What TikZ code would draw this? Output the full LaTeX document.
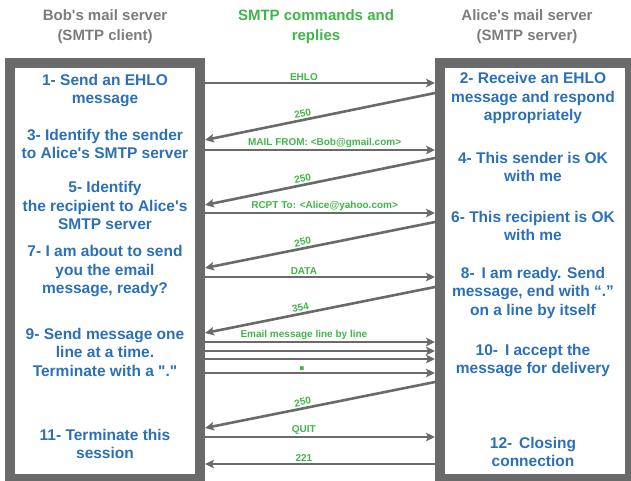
\documentclass[tikz,border=0pt]{standalone}
\usepackage{fontspec}
\setmainfont[Ligatures=TeXOff]{Liberation Sans}
\usetikzlibrary{arrows.meta}

\definecolor{framegray}{HTML}{6A6A6A}
\definecolor{stepblue}{HTML}{2B70B6}
\definecolor{cmdgreen}{HTML}{42B54A}
\definecolor{headgray}{HTML}{7C7C7C}

\begin{document}
\begin{tikzpicture}[
  x=1pt, y=-1pt,
  srv/.style={draw=framegray, line width=10pt, minimum width=190pt, minimum height=416pt, inner sep=0pt},
  head/.style={text=headgray, align=center, font=\bfseries\fontsize{15}{20}\selectfont},
  act/.style={text=stepblue, align=center, font=\bfseries\fontsize{15.5}{18.5}\selectfont},
  cmd/.style={text=cmdgreen, inner sep=1.5pt, font=\bfseries\fontsize{10}{12}\selectfont},
  msg/.style={draw=framegray, line width=2.6pt, -{Stealth[length=9pt,width=8.5pt,inset=2pt]}}
]
\useasboundingbox (0,0) rectangle (631,480);

% the two servers
\node[srv] (bob) at (105,271) {};
\node[srv] (alice) at (535,271) {};

\node[head] (bobhead) at (105,27) {Bob's mail server\\(SMTP client)};
\node[head, text=cmdgreen] (cmdhead) at (316,27) {SMTP commands and\\replies};
\node[head] (alicehead) at (527,27) {Alice's mail server\\(SMTP server)};

% client side steps
\node[act] (s1) at (105,90.5) {1- Send an EHLO\\message};
\node[act] (s3) at (105,144) {3- Identify the sender\\to Alice's SMTP server};
\node[act] (s5) at (105,205.5) {5- Identify\\the recipient to Alice's\\SMTP server};
\node[act] (s7) at (105,271.5) {7- I am about to send\\you the email\\message, ready?};
\node[act] (s9) at (105,352) {9- Send message one\\line at a time.\\Terminate with a "."};
\node[act] (s11) at (105,444) {11- Terminate this\\session};

% server side steps
\node[act] (s2) at (533,98) {2- Receive an EHLO\\message and respond\\appropriately};
\node[act] (s4) at (533,167) {4- This sender is OK\\with me};
\node[act] (s6) at (533,226) {6- This recipient is OK\\with me};
\node[act] (s8) at (533,292.5) {8-\, I am ready. Send\\message, end with “.”\\on a line by itself};
\node[act] (s10) at (533,360.5) {10-\, I accept the\\message for delivery};
\node[act] (s12) at (533,452) {12-\, Closing\\connection};

% commands and replies
\draw[msg] (bob.east |- 0,83) -- (alice.west |- 0,83) node[cmd, above, pos=.43] {EHLO};
\draw[msg] (alice.west |- 0,93) -- (bob.east |- 0,140) node[cmd, above, sloped, pos=.57] {250};
\draw[msg] (bob.east |- 0,150) -- (alice.west |- 0,150) node[cmd, above, pos=.52] {MAIL FROM: <Bob@gmail.com>};
\draw[msg] (alice.west |- 0,158) -- (bob.east |- 0,205) node[cmd, above, sloped, pos=.57] {250};
\draw[msg] (bob.east |- 0,213) -- (alice.west |- 0,213) node[cmd, above, pos=.52] {RCPT To: <Alice@yahoo.com>};
\draw[msg] (alice.west |- 0,222) -- (bob.east |- 0,268) node[cmd, above, sloped, pos=.57] {250};
\draw[msg] (bob.east |- 0,277) -- (alice.west |- 0,277) node[cmd, above, pos=.43] {DATA};
\draw[msg] (alice.west |- 0,287) -- (bob.east |- 0,333) node[cmd, above, sloped, pos=.58] {354};
\draw[msg] (bob.east |- 0,342) -- (alice.west |- 0,342) node[cmd, above, pos=.43] {Email message line by line};
\draw[msg] (bob.east |- 0,351) -- (alice.west |- 0,351);
\draw[msg] (bob.east |- 0,359) -- (alice.west |- 0,359);
\draw[msg] (bob.east |- 0,373) -- (alice.west |- 0,373);
\node[cmd, anchor=base, inner sep=0pt, font=\bfseries\fontsize{26}{26}\selectfont] (stop) at (302,370) {.};
\draw[msg] (alice.west |- 0,382) -- (bob.east |- 0,428) node[cmd, above, sloped, pos=.57] {250};
\draw[msg] (bob.east |- 0,437) -- (alice.west |- 0,437) node[cmd, above, pos=.43] {QUIT};
\draw[msg] (alice.west |- 0,464) -- (bob.east |- 0,464) node[cmd, above, pos=.57] {221};
\end{tikzpicture}
\end{document}
